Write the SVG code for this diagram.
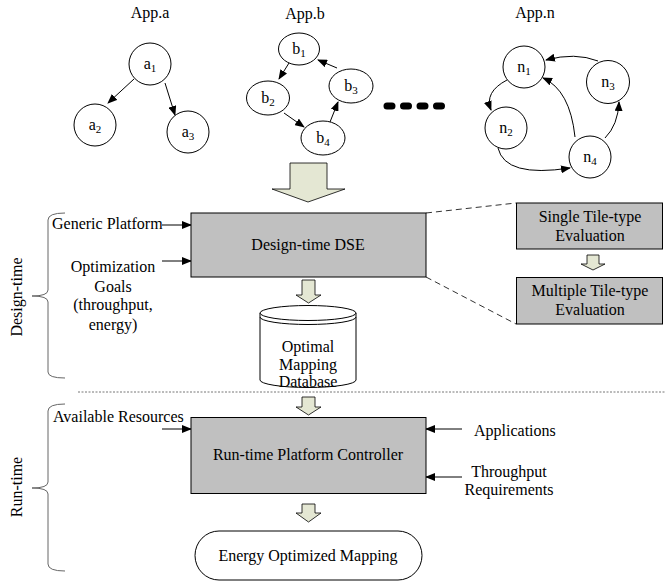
<svg xmlns="http://www.w3.org/2000/svg" width="665" height="582" viewBox="0 0 665 582" font-family="'Liberation Serif','Times New Roman',serif">
<style>
text{font-family:"Liberation Serif","Times New Roman",serif;font-size:16px;fill:#000}
.c{text-anchor:middle}
.sub{font-size:11px}
.node{fill:#fff;stroke:#000;stroke-width:1}
.box{fill:#c0c0c0;stroke:#000;stroke-width:1}
.edge{fill:none;stroke:#000;stroke-width:1;marker-end:url(#ah)}
.blk{fill:#e4e7d3;stroke:#000;stroke-width:0.8}
.brace{fill:none;stroke:#666;stroke-width:1}
</style>
<defs>
<marker id="ah" markerWidth="10" markerHeight="8" refX="9" refY="4" orient="auto" markerUnits="userSpaceOnUse">
<path d="M0,0 L10,4 L0,8 Z" fill="#000"/>
</marker>
</defs>

<text class="c" x="150" y="18">App.a</text>
<text class="c" x="305" y="19">App.b</text>
<text class="c" x="535" y="18">App.n</text>

<g id="connectors">
<line class="edge" x1="134" y1="79" x2="108" y2="103"/>
<line class="edge" x1="165" y1="83" x2="175" y2="115"/>
<line class="edge" x1="289" y1="63" x2="279" y2="79"/>
<line class="edge" x1="284" y1="113" x2="304" y2="127"/>
<line class="edge" x1="330" y1="122" x2="338" y2="102"/>
<line class="edge" x1="337" y1="68" x2="318" y2="60"/>
<path class="edge" d="M598,61 Q575,52 546,60"/>
<path class="edge" d="M575,137 Q570,90 543,78"/>
<path class="edge" d="M507,80 Q484,92 491,110"/>
<path class="edge" d="M498,148 Q505,178 570,168"/>
<path class="edge" d="M605,138 Q618,125 619,102"/>
<line x1="387" y1="106" x2="452" y2="106" stroke="#000" stroke-width="7" stroke-linecap="round" stroke-dasharray="5 11.5"/>
<line class="edge" x1="162" y1="225" x2="191" y2="225"/>
<line class="edge" x1="162" y1="261" x2="191" y2="261"/>
<line class="edge" x1="162" y1="429" x2="191" y2="429"/>
<line class="edge" x1="462" y1="429" x2="426" y2="429"/>
<line class="edge" x1="462" y1="477" x2="426" y2="477"/>
<line x1="426" y1="213" x2="516" y2="203" stroke="#333" stroke-dasharray="6 4"/>
<line x1="426" y1="277" x2="516" y2="324" stroke="#333" stroke-dasharray="6 4"/>
<line x1="78" y1="392" x2="665" y2="392" stroke="#777" stroke-dasharray="2 1.5"/>
<polygon class="blk" points="290,163 327,163 327,189 345,189 308,202 272,189 290,189"/>
<polygon class="blk" points="302,280 315,280 315,295 321,295 308.5,303 296,295 302,295"/>
<polygon class="blk" points="302,397 315,397 315,407 321,407 308.5,415 296,407 302,407"/>
<polygon class="blk" points="302,504 315,504 315,513 321,513 308.5,522 296,513 302,513"/>
<polygon class="blk" points="587,255 599,255 599,264 605,264 593,270 581,264 587,264"/>
</g>

<g id="a1"><circle class="node" cx="150" cy="64" r="21"/><text class="c" x="150" y="69">a<tspan class="sub" dy="3">1</tspan></text></g>
<g id="a2"><circle class="node" cx="95" cy="125" r="21"/><text class="c" x="95" y="130">a<tspan class="sub" dy="3">2</tspan></text></g>
<g id="a3"><circle class="node" cx="188" cy="132" r="21"/><text class="c" x="188" y="137">a<tspan class="sub" dy="3">3</tspan></text></g>

<g id="b1"><ellipse class="node" cx="299" cy="49" rx="20.5" ry="16"/><text class="c" x="299" y="54">b<tspan class="sub" dy="3">1</tspan></text></g>
<g id="b2"><ellipse class="node" cx="268" cy="98" rx="21.5" ry="17"/><text class="c" x="268" y="103">b<tspan class="sub" dy="3">2</tspan></text></g>
<g id="b3"><ellipse class="node" cx="351" cy="86" rx="22" ry="17"/><text class="c" x="351" y="91">b<tspan class="sub" dy="3">3</tspan></text></g>
<g id="b4"><ellipse class="node" cx="323" cy="138" rx="22" ry="17"/><text class="c" x="323" y="143">b<tspan class="sub" dy="3">4</tspan></text></g>

<g id="n1"><circle class="node" cx="524" cy="67" r="21"/><text class="c" x="524" y="72">n<tspan class="sub" dy="3">1</tspan></text></g>
<g id="n2"><circle class="node" cx="506" cy="128" r="21"/><text class="c" x="506" y="133">n<tspan class="sub" dy="3">2</tspan></text></g>
<g id="n3"><circle class="node" cx="608" cy="82" r="21.5"/><text class="c" x="608" y="87">n<tspan class="sub" dy="3">3</tspan></text></g>
<g id="n4"><circle class="node" cx="590" cy="157" r="21"/><text class="c" x="590" y="162">n<tspan class="sub" dy="3">4</tspan></text></g>

<g id="design-dse"><rect class="box" x="191" y="213" width="235" height="64"/><text class="c" x="308" y="250">Design-time DSE</text></g>
<g id="single-tile"><rect class="box" x="516.5" y="203" width="146" height="46"/><text class="c" x="590" y="221.5">Single Tile-type</text><text class="c" x="590" y="241">Evaluation</text></g>
<g id="multi-tile"><rect class="box" x="516.5" y="277.5" width="146" height="46.5"/><text class="c" x="590" y="296">Multiple Tile-type</text><text class="c" x="590" y="315">Evaluation</text></g>

<g id="generic-platform"><text x="52" y="229">Generic Platform</text></g>
<g id="opt-goals"><text class="c" x="113" y="272">Optimization</text><text class="c" x="113" y="291.5">Goals</text><text class="c" x="113" y="310">(throughput,</text><text class="c" x="113" y="330">energy)</text></g>

<g id="database">
<path class="node" d="M260,313 V380 A48,7.5 0 0 0 356,380 V313"/>
<ellipse class="node" cx="308" cy="313" rx="48" ry="7.5"/>
<path fill="none" stroke="#000" d="M260,317 A48,7.5 0 0 0 356,317"/>
<text class="c" x="308" y="351.5">Optimal</text><text class="c" x="308" y="370">Mapping</text><text class="c" x="308" y="386.5">Database</text>
</g>

<g id="available-resources"><text x="53" y="422">Available Resources</text></g>
<g id="runtime-controller"><rect class="box" x="191" y="417.5" width="235" height="76"/><text class="c" x="308" y="460">Run-time Platform Controller</text></g>
<g id="applications"><text x="474" y="436">Applications</text></g>
<g id="throughput-req"><text class="c" x="509" y="477">Throughput</text><text class="c" x="509" y="495">Requirements</text></g>
<g id="energy-mapping"><rect class="node" x="195" y="531" width="227" height="49" rx="24" ry="24.5"/><text class="c" x="308" y="561">Energy Optimized Mapping</text></g>

<g id="design-time-brace">
<path class="brace" d="M65,213 Q48,213 48,220 V290 Q48,296 32,296 Q48,296 48,302 V372 Q48,378 65,378"/>
<text class="c" transform="translate(22,297) rotate(-90)">Design-time</text>
</g>
<g id="run-time-brace">
<path class="brace" d="M65,404 Q48,404 48,411 V482 Q48,488 32,488 Q48,488 48,494 V564 Q48,571 65,571"/>
<text class="c" transform="translate(22,487) rotate(-90)">Run-time</text>
</g>
</svg>
